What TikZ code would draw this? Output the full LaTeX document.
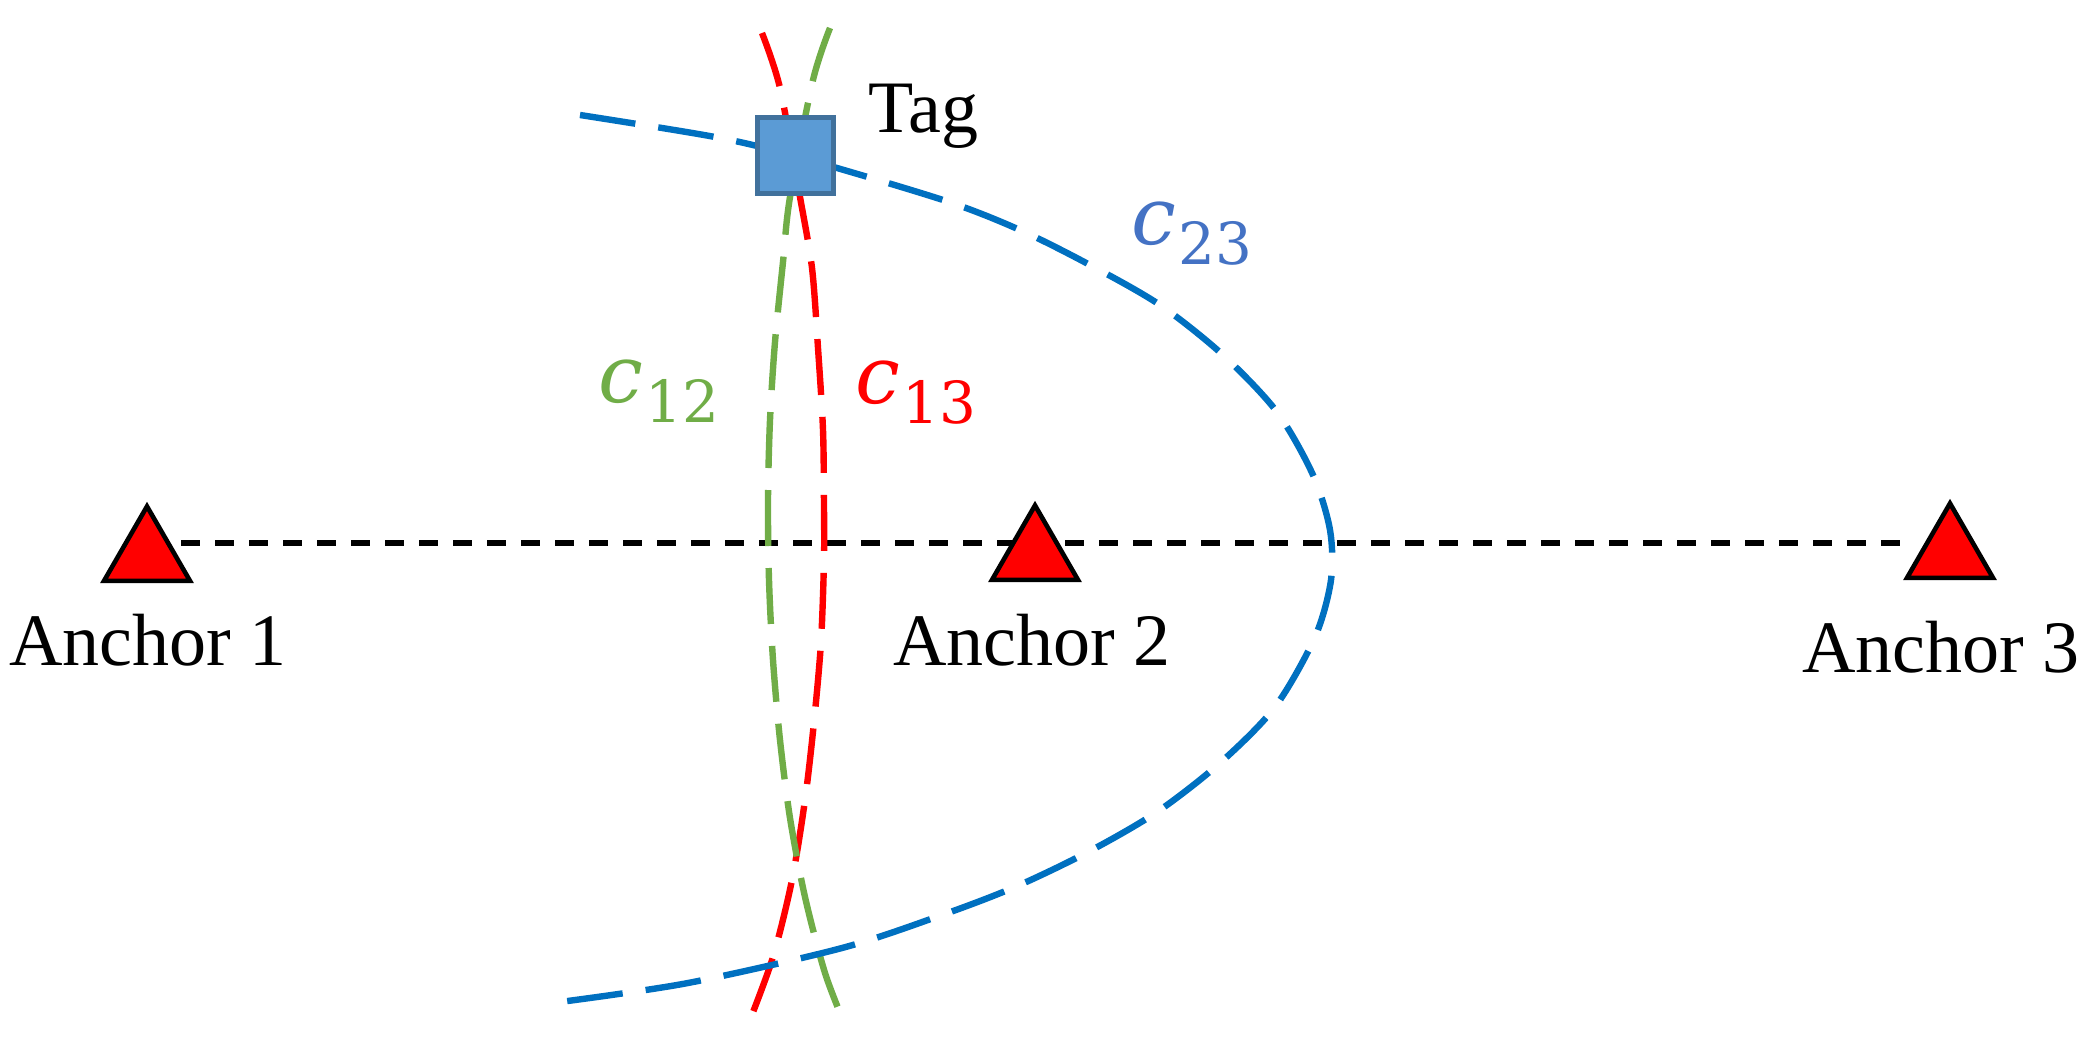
\documentclass[tikz,border=0pt]{standalone}
\usepackage{fontspec}
\setmainfont{Liberation Serif}
\newfontfamily\labfont{DejaVu Serif}
\usetikzlibrary{shapes.geometric}
\definecolor{cblue}{HTML}{0070C0}
\definecolor{cgreen}{HTML}{70AD47}
\definecolor{cred}{HTML}{FF0000}
\definecolor{clabelblue}{HTML}{4472C4}
\definecolor{tagfill}{HTML}{5B9BD5}
\definecolor{tagborder}{HTML}{41719C}
\newcommand{\clab}[1]{{\labfont\fontsize{40}{48}\selectfont\itshape c}\kern1pt\raisebox{-10pt}{\labfont\fontsize{29}{34}\selectfont #1}}
\begin{document}
\begin{tikzpicture}[x=0.5pt,y=-0.5pt,
  curve/.style={line width=3.2pt, dash pattern=on 28pt off 11pt},
  baseline/.style={line width=2.6pt, dash pattern=on 9.5pt off 7.5pt},
  anchortri/.style={regular polygon, regular polygon sides=3, draw=black, fill=red,
    line width=2.3pt, minimum size=49.6pt, inner sep=0pt},
  lbl/.style={font=\fontsize{37}{44}\selectfont, inner sep=0pt, anchor=base},
  clbl/.style={inner sep=0pt, anchor=base west},
  tagbox/.style={rectangle, draw=tagborder, fill=tagfill, line width=2.5pt,
    minimum size=38pt, inner sep=0pt}]
\useasboundingbox (0,0) rectangle (2095,1064);
\fill[white] (0,0) rectangle (2095,1064);

% baseline between anchors
\coordinate (p1) at (147,543);
\coordinate (p3) at (1912,543);
\draw[baseline] (p1) -- (p3);

% c13 (red)
\draw[curve, cred] plot[smooth] coordinates {
  (762,33) (780,88) (800,197) (812,268) (818,348) (823,430) (824,507)
  (824,560) (821,642) (814,722) (805,800) (792,880) (773,957) (748,1025)};
% c12 (green)
\draw[curve, cgreen] plot[smooth] coordinates {
  (830,28) (813,80) (790,197) (783,262) (775,342) (770,420) (768,500)
  (769,580) (773,660) (780,740) (790,818) (805,897) (825,973) (845,1025)};
% c23 (blue)
\draw[curve, cblue, dash pattern=on 28pt off 11.6pt] plot[smooth] coordinates {
  (580,115) (715,137) (795,156) (943,200) (1020,230) (1090,265) (1160,305)
  (1223,355) (1277,412) (1313,475) (1330,530) (1331,580) (1315,637)
  (1275,707) (1220,763) (1157,812) (1088,852) (1015,887) (942,915)
  (842,948) (688,983) (560,1002)};

% anchors
\node[anchortri] (a1) at (147,556) {};
\node[anchortri] (a2) at (1035,555) {};
\node[anchortri] (a3) at (1950,553) {};
\node[lbl] (l1) at (148,665) {Anchor 1};
\node[lbl] (l2) at (1032,665) {Anchor 2};
\node[lbl] (l3) at (1941,672) {Anchor 3};

% tag
\node[tagbox] (tag) at (795.5,155.5) {};
\node[lbl, anchor=base west] (taglbl) at (868,133) {Tag};

% curve labels
\node[clbl, text=cgreen] (c12) at (598,402) {\clab{12}};
\node[clbl, text=cred] (c13) at (855,403) {\clab{13}};
\node[clbl, text=clabelblue] (c23) at (1131,245) {\clab{23}};
\end{tikzpicture}
\end{document}
